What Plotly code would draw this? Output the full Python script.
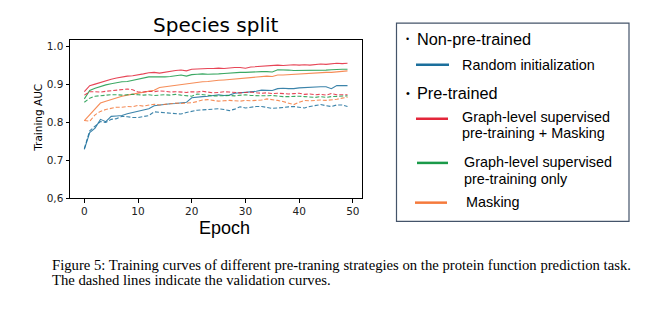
import plotly.graph_objects as go

W, H = 658, 322

epochs = list(range(50))

# training curves (solid)
train_random = [0.729, 0.773, 0.785, 0.808, 0.802, 0.816, 0.817, 0.818, 0.823, 0.826,
                0.830, 0.834, 0.836, 0.844, 0.846, 0.848, 0.849, 0.850, 0.852, 0.853,
                0.865, 0.867, 0.868, 0.869, 0.870, 0.873, 0.871, 0.872, 0.877, 0.878,
                0.879, 0.880, 0.882, 0.885, 0.884, 0.884, 0.889, 0.890, 0.889, 0.889,
                0.891, 0.892, 0.892, 0.893, 0.894, 0.894, 0.889, 0.897, 0.897, 0.897]
train_gls_mask = [0.881, 0.897, 0.901, 0.906, 0.911, 0.914, 0.917, 0.920, 0.922, 0.923,
                  0.925, 0.928, 0.931, 0.932, 0.930, 0.933, 0.934, 0.937, 0.938, 0.936,
                  0.940, 0.941, 0.941, 0.942, 0.942, 0.943, 0.942, 0.944, 0.945, 0.945,
                  0.943, 0.946, 0.947, 0.948, 0.948, 0.949, 0.951, 0.950, 0.951, 0.952,
                  0.951, 0.952, 0.951, 0.953, 0.954, 0.953, 0.955, 0.956, 0.955, 0.956]
train_gls_only = [0.862, 0.884, 0.890, 0.895, 0.899, 0.902, 0.905, 0.907, 0.908, 0.911,
                  0.914, 0.915, 0.920, 0.920, 0.919, 0.920, 0.921, 0.923, 0.925, 0.922,
                  0.926, 0.927, 0.928, 0.927, 0.927, 0.928, 0.929, 0.930, 0.932, 0.932,
                  0.932, 0.933, 0.934, 0.934, 0.934, 0.933, 0.939, 0.939, 0.938, 0.937,
                  0.937, 0.938, 0.938, 0.938, 0.938, 0.938, 0.939, 0.940, 0.940, 0.940]
train_masking = [0.805, 0.820, 0.836, 0.851, 0.856, 0.861, 0.865, 0.869, 0.872, 0.875,
                 0.877, 0.880, 0.883, 0.885, 0.892, 0.894, 0.896, 0.898, 0.900, 0.902,
                 0.904, 0.906, 0.907, 0.908, 0.910, 0.911, 0.912, 0.913, 0.915, 0.916,
                 0.917, 0.917, 0.919, 0.921, 0.922, 0.921, 0.925, 0.925, 0.926, 0.927,
                 0.928, 0.929, 0.930, 0.930, 0.931, 0.932, 0.932, 0.933, 0.935, 0.936]

# validation curves (dashed)
val_random = [0.731, 0.778, 0.790, 0.802, 0.800, 0.808, 0.810, 0.816, 0.815, 0.813,
              0.813, 0.815, 0.818, 0.828, 0.827, 0.826, 0.825, 0.823, 0.822, 0.826,
              0.830, 0.832, 0.833, 0.834, 0.834, 0.836, 0.834, 0.831, 0.835, 0.841,
              0.838, 0.840, 0.842, 0.842, 0.840, 0.837, 0.838, 0.840, 0.841, 0.842,
              0.840, 0.838, 0.842, 0.845, 0.847, 0.844, 0.842, 0.846, 0.846, 0.842]
val_gls_mask = [0.872, 0.881, 0.881, 0.880, 0.882, 0.884, 0.885, 0.886, 0.888, 0.886,
                0.880, 0.880, 0.882, 0.881, 0.883, 0.882, 0.880, 0.881, 0.880, 0.879,
                0.881, 0.880, 0.882, 0.880, 0.878, 0.879, 0.881, 0.880, 0.879, 0.878,
                0.879, 0.880, 0.878, 0.877, 0.878, 0.876, 0.877, 0.876, 0.875, 0.876,
                0.877, 0.874, 0.875, 0.873, 0.874, 0.872, 0.876, 0.873, 0.873, 0.873]
val_gls_only = [0.853, 0.864, 0.869, 0.871, 0.872, 0.873, 0.873, 0.872, 0.873, 0.874,
                0.873, 0.872, 0.873, 0.871, 0.872, 0.873, 0.872, 0.874, 0.872, 0.871,
                0.869, 0.875, 0.873, 0.871, 0.870, 0.870, 0.871, 0.871, 0.870, 0.872,
                0.873, 0.871, 0.870, 0.871, 0.870, 0.871, 0.869, 0.868, 0.868, 0.869,
                0.869, 0.868, 0.867, 0.866, 0.868, 0.866, 0.868, 0.869, 0.869, 0.870]
val_masking = [0.805, 0.803, 0.820, 0.829, 0.834, 0.838, 0.840, 0.840, 0.842, 0.841,
               0.845, 0.843, 0.846, 0.848, 0.846, 0.847, 0.849, 0.851, 0.850, 0.851,
               0.852, 0.855, 0.859, 0.860, 0.858, 0.856, 0.857, 0.858, 0.857, 0.856,
               0.858, 0.857, 0.858, 0.859, 0.862, 0.861, 0.858, 0.855, 0.851, 0.847,
               0.853, 0.858, 0.857, 0.858, 0.859, 0.858, 0.859, 0.861, 0.864, 0.866]

y_ticks = [0.6, 0.7, 0.8, 0.9, 1.0]
y_ticktext = ["0,6", "0.7", "0.8", "0.9", "1.0"]
x_ticks = [0, 10, 20, 30, 40, 50]

C_BLUE = "#1b6f9c"
C_RED = "#e3263a"
C_GREEN = "#1a9a49"
C_ORANGE = "#f57a3c"

series = [
    (train_random, C_BLUE, "solid"),
    (train_gls_mask, C_RED, "solid"),
    (train_gls_only, C_GREEN, "solid"),
    (train_masking, C_ORANGE, "solid"),
    (val_random, C_BLUE, "4px,2px"),
    (val_gls_mask, C_RED, "4px,2px"),
    (val_gls_only, C_GREEN, "4px,2px"),
    (val_masking, C_ORANGE, "4px,2px"),
]

fig = go.Figure()
for ys, col, dash in series:
    fig.add_trace(go.Scatter(x=epochs, y=ys, mode="lines",
                             line=dict(color=col, width=1.1, dash=dash),
                             opacity=0.85, showlegend=False, hoverinfo="skip"))

def px_x(p):
    return p / W

def px_y(p):
    return 1 - p / H

axis_common = dict(showline=True, linecolor="black", linewidth=1, mirror=True,
                   ticks="outside", ticklen=3.5, tickwidth=0.8, tickcolor="black",
                   showgrid=False, zeroline=False,
                   tickfont=dict(family="DejaVu Sans", size=10.5, color="#222"))

fig.update_layout(
    width=W, height=H,
    margin=dict(l=0, r=0, t=0, b=0),
    paper_bgcolor="white", plot_bgcolor="white",
    xaxis=dict(domain=[px_x(70), px_x(362)], range=[-2.67, 51.7],
               tickvals=x_ticks, **axis_common),
    yaxis=dict(domain=[px_y(202), px_y(41)], range=[0.6, 1.0167],
               tickvals=y_ticks, ticktext=y_ticktext, **axis_common),
)

ann = []

def text(x, y, s, size, family="Liberation Sans", color="black", xanchor="left",
         textangle=0):
    ann.append(dict(x=px_x(x), y=px_y(y), xref="paper", yref="paper", text=s,
                    showarrow=False, xanchor=xanchor, yanchor="middle",
                    textangle=textangle,
                    font=dict(family=family, size=size, color=color)))

# chart titles
text(216, 25, "Species split", 20, family="DejaVu Sans", xanchor="center")
text(224, 232, "Epoch", 18, xanchor="center")
text(38, 120, "Training AUC", 10.5, family="DejaVu Sans", xanchor="center",
     textangle=-90)

# legend panel
shapes = [dict(type="rect", xref="paper", yref="paper",
               x0=px_x(396.5), x1=px_x(629), y0=px_y(225.5), y1=px_y(23.5),
               line=dict(color="#44546a", width=1.2), fillcolor="rgba(0,0,0,0)")]

def sample(x0, x1, y, col):
    shapes.append(dict(type="line", xref="paper", yref="paper",
                       x0=px_x(x0), x1=px_x(x1), y0=px_y(y), y1=px_y(y),
                       line=dict(color=col, width=2.5)))

text(404, 40, "•", 9)
text(415, 40, "Non-pre-trained", 16.3)
sample(416, 449, 66, C_BLUE)
text(460, 66, "Random initialization", 14.4)
text(404, 95, "•", 11)
text(415, 95, "Pre-trained", 16.3)
sample(416, 448, 121, C_RED)
text(460, 119, "Graph-level supervised", 14.4)
text(460, 136, "pre-training + Masking", 14.4)
sample(417, 448, 166, C_GREEN)
text(462, 165, "Graph-level supervised", 14.4)
text(462, 182, "pre-training only", 14.4)
sample(415, 447, 206.5, C_ORANGE)
text(464, 206, "Masking", 14.4)

# caption
text(50, 270, "Figure 5: Training curves of different pre-traning strategies on the protein function prediction task.",
     14.7, family="Liberation Serif")
text(50, 285, "The dashed lines indicate the validation curves.", 14.7,
     family="Liberation Serif")

fig.update_layout(annotations=ann, shapes=shapes)
fig.write_html("out.html")
